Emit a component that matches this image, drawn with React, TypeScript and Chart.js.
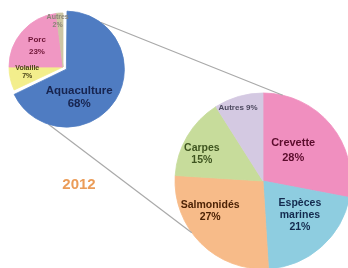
import React, { useEffect, useRef } from "react";
import { Chart, registerables } from "chart.js";

Chart.register(...registerables);

// ---- Data ----
const yearLabel = "2012";

const smallLabels = ["Aquaculture", "Volaille", "Porc", "Autres"];
const smallValues = [68, 7, 23, 2];
const smallColors = ["#4f7cc2", "#f3ee8c", "#f097c3", "#cdc6a4"];
const smallTextColors = ["#17244f", "#4a4418", "#6e1536", "#8a8577"];

const bigLabels = ["Crevette", "Espèces marines", "Salmonidés", "Carpes", "Autres"];
const bigValues = [28, 21, 27, 15, 9];
const bigColors = ["#f08fbf", "#8ecde0", "#f7bb89", "#c7dc9b", "#d4c9e2"];
const bigTextColors = ["#5a0c2c", "#132a4e", "#4d2306", "#3f5520", "#4d4a60"];

// label layout (style only)
const smallLabelFrac = [0.53, 0.67, 0.62, 0.86];
const smallLabelShift = [33, 4, -2.5, -3];
const smallLabelSize = [11.5, 7, 8, 7];
const smallLabelLH = [12.5, 8, 12, 8];

const bigLabelFrac = [0.49, 0.57, 0.69, 0.76, 0.875];
const bigLabelShift = [-6, -6, 15.5, -6.7, -2.7];
const bigLabelSize = [11, 10.5, 10.5, 10.5, 8];
const bigLabelLH = [15, 12, 12, 12, 9];

const FONT = '"Liberation Sans", Arial, sans-serif';

function smallLines(): string[][] {
  return smallLabels.map((l, i) => [l, `${smallValues[i]}%`]);
}
function bigLines(): string[][] {
  return bigLabels.map((l, i) => {
    const pct = `${bigValues[i]}%`;
    if (l === "Autres") return [`${l} ${pct}`];
    return [...l.split(" "), pct];
  });
}

function arcGeom(arc: any) {
  const p = arc.getProps(["x", "y", "startAngle", "endAngle", "outerRadius", "circumference"], true);
  const mid = (p.startAngle + p.endAngle) / 2;
  const off = ((arc.options && arc.options.offset) || 0) / 4;
  const cx = p.x + Math.cos(mid) * off;
  const cy = p.y + Math.sin(mid) * off;
  const fix = 1 - Math.sin(Math.min(Math.PI, p.circumference || 0));
  const r = p.outerRadius + off * fix;
  return { cx, cy, r, mid };
}

function makeLabelPlugin(id: string, cfg: any) {
  return {
    id,
    afterDatasetsDraw(chart: any) {
      const ctx = chart.ctx;
      const meta = chart.getDatasetMeta(0);
      meta.data.forEach((arc: any, i: number) => {
        const g = arcGeom(arc);
        const a = g.mid + (cfg.shift[i] * Math.PI) / 180;
        const d = cfg.frac[i] * g.r;
        const x = g.cx + Math.cos(a) * d;
        const y = g.cy + Math.sin(a) * d;
        const lines: string[] = cfg.lines[i];
        const lh = cfg.lh[i];
        ctx.save();
        ctx.font = `bold ${cfg.size[i]}px ${FONT}`;
        ctx.fillStyle = cfg.color[i];
        ctx.textAlign = "center";
        ctx.textBaseline = "middle";
        lines.forEach((t, k) => {
          ctx.fillText(t, x, y + (k - (lines.length - 1) / 2) * lh);
        });
        ctx.restore();
      });
    },
  };
}

// connector angles (degrees, canvas convention) on small (exploded) and big circles
const connectorSmallAngles = [-54, 108];
const connectorBigAngles = [-77, 144];

export default function App() {
  const bigRef = useRef<HTMLCanvasElement>(null);
  const smallRef = useRef<HTMLCanvasElement>(null);

  useEffect(() => {
    if (!bigRef.current || !smallRef.current) return;

    const bigChart = new Chart(bigRef.current, {
      type: "pie",
      data: {
        labels: bigLabels,
        datasets: [
          {
            data: bigValues,
            backgroundColor: bigColors,
            borderColor: bigColors,
            borderWidth: 0.8,
            clip: false as any,
          },
        ],
      },
      options: {
        responsive: false,
        animation: false,
        events: [],
        radius: 88,
        layout: { padding: { left: 178, right: 0, top: 94, bottom: 0 } },
        plugins: { legend: { display: false }, tooltip: { enabled: false } },
      } as any,
      plugins: [
        makeLabelPlugin("bigLabels", {
          lines: bigLines(),
          frac: bigLabelFrac,
          shift: bigLabelShift,
          size: bigLabelSize,
          lh: bigLabelLH,
          color: bigTextColors,
        }),
      ],
    });

    const connectorPlugin = {
      id: "connectors",
      beforeDatasetsDraw(chart: any) {
        const ctx = chart.ctx;
        const sArc = chart.getDatasetMeta(0).data[0];
        const bArc = bigChart.getDatasetMeta(0).data[0];
        if (!sArc || !bArc) return;
        const s = arcGeom(sArc);
        const b = arcGeom(bArc);
        ctx.save();
        ctx.strokeStyle = "#a9a9a9";
        ctx.lineWidth = 1.2;
        for (let k = 0; k < connectorSmallAngles.length; k++) {
          const sa = (connectorSmallAngles[k] * Math.PI) / 180;
          const ba = (connectorBigAngles[k] * Math.PI) / 180;
          ctx.beginPath();
          ctx.moveTo(s.cx + Math.cos(sa) * s.r, s.cy + Math.sin(sa) * s.r);
          ctx.lineTo(b.cx + Math.cos(ba) * b.r, b.cy + Math.sin(ba) * b.r);
          ctx.stroke();
        }
        // year label
        ctx.font = `bold 15px ${FONT}`;
        ctx.fillStyle = "#eb9c58";
        ctx.textAlign = "center";
        ctx.textBaseline = "middle";
        ctx.fillText(yearLabel, 79, 185);
        ctx.restore();
      },
    };

    const smallChart = new Chart(smallRef.current, {
      type: "pie",
      data: {
        labels: smallLabels,
        datasets: [
          {
            data: smallValues,
            backgroundColor: smallColors,
            borderColor: smallColors,
            borderWidth: 0.8,
            offset: [16, 0, 0, 0],
            clip: false as any,
          },
        ],
      },
      options: {
        responsive: false,
        animation: false,
        events: [],
        radius: 54,
        layout: { padding: { left: 0, right: 222, top: 0, bottom: 134 } },
        plugins: { legend: { display: false }, tooltip: { enabled: false } },
      } as any,
      plugins: [
        connectorPlugin,
        makeLabelPlugin("smallLabels", {
          lines: smallLines(),
          frac: smallLabelFrac,
          shift: smallLabelShift,
          size: smallLabelSize,
          lh: smallLabelLH,
          color: smallTextColors,
        }),
      ],
    });

    return () => {
      smallChart.destroy();
      bigChart.destroy();
    };
  }, []);

  const canvasStyle: React.CSSProperties = { position: "absolute", left: 0, top: 0 };
  return (
    <div style={{ position: "absolute", left: 0, top: 0, width: 348, height: 268, background: "#ffffff", overflow: "hidden" }}>
      <canvas ref={bigRef} width={348} height={268} style={canvasStyle} />
      <canvas ref={smallRef} width={348} height={268} style={canvasStyle} />
    </div>
  );
}
